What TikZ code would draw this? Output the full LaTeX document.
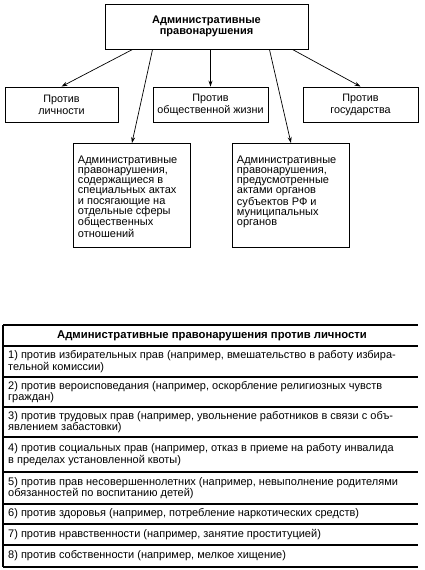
\documentclass[tikz,border=0pt]{standalone}
\usepackage{fontspec}
\setmainfont{Liberation Sans}
\usetikzlibrary{arrows.meta}
\newcommand{\boxtext}[1]{\parbox[t][80pt][t]{108pt}{\raggedright #1}}
\begin{document}
\begin{tikzpicture}[x=1pt,y=-1pt,
		box/.style={draw, line width=0.9pt, inner sep=0pt, align=center, font=\fontsize{10.8}{12}\selectfont},
		tall/.style={draw, line width=0.9pt, inner sep=0pt, anchor=north west, minimum width=117pt, minimum height=104pt, font=\fontsize{11}{10.3}\selectfont},
		arr/.style={-{Stealth[length=6pt,width=4pt]}, line width=0.7pt},
		rowtext/.style={anchor=west, inner sep=0pt, align=left, font=\fontsize{11}{11.5}\selectfont},
		rule/.style={line width=1.1pt}]
	\useasboundingbox (0,0) rectangle (424,570);
	% upper scheme
	\node[box, minimum width=203pt, minimum height=45pt, font=\fontsize{11}{10.5}\selectfont\bfseries] (top) at (206.5,26.5) {Административные\\правонарушения};
	\node[box, minimum width=113pt, minimum height=35pt] (pers) at (61.5,104.5) {Против\\личности};
	\node[box, minimum width=115pt, minimum height=35pt] (soc) at (210.5,104.5) {Против\\общественной жизни};
	\node[box, minimum width=115pt, minimum height=35pt] (state) at (360.5,104.5) {Против\\государства};
	\node[tall] (spec) at (73,143) {\boxtext{Административные правонарушения, содержащиеся в специальных актах и~посягающие на отдельные сферы общественных отношений}};
	\node[tall] (reg) at (232,143) {\boxtext{Административные правонарушения, предусмотренные актами органов субъектов РФ и муниципальных органов}};
	\draw[arr] ([xshift=28pt]top.south west) -- (pers.north);
	\draw[arr] ([xshift=48pt]top.south west) -- (spec.north);
	\draw[arr] (top.south -| soc.north) -- (soc.north);
	\draw[arr] ([xshift=-39pt]top.south east) -- (reg.north);
	\draw[arr] ([xshift=-16pt]top.south east) -- (state.north);
	% table
	\node[rowtext, anchor=center, font=\fontsize{11.3}{11.5}\selectfont\bfseries] (head) at (212,335.5) {Административные правонарушения против личности};
	\node[rowtext] (r1) at (8,361.5) {1) против избирательных прав (например, вмешательство в работу избира-\\тельной комиссии)};
	\node[rowtext] (r2) at (8,392) {2) против вероисповедания (например, оскорбление религиозных чувств\\граждан)};
	\node[rowtext] (r3) at (8,422) {3) против трудовых прав (например, увольнение работников в связи с объ-\\явлением забастовки)};
	\node[rowtext] (r4) at (8,454.5) {4) против социальных прав (например, отказ в приеме на работу инвалида\\в пределах установленной квоты)};
	\node[rowtext] (r5) at (8,488) {5) против прав несовершеннолетних (например, невыполнение родителями\\обязанностей по воспитанию детей)};
	\node[rowtext] (r6) at (8,514) {6) против здоровья (например, потребление наркотических средств)};
	\node[rowtext] (r7) at (8,534.5) {7) против нравственности (например, занятие проституцией)};
	\node[rowtext] (r8) at (8,556) {8) против собственности (например, мелкое хищение)};
	\foreach \y in {325,346,377,407,437,472,504,524,545,567}
		\draw[rule] (3,\y) -- (418,\y);
	\draw[rule] (3,325) -- (3,567);
\end{tikzpicture}
\end{document}
